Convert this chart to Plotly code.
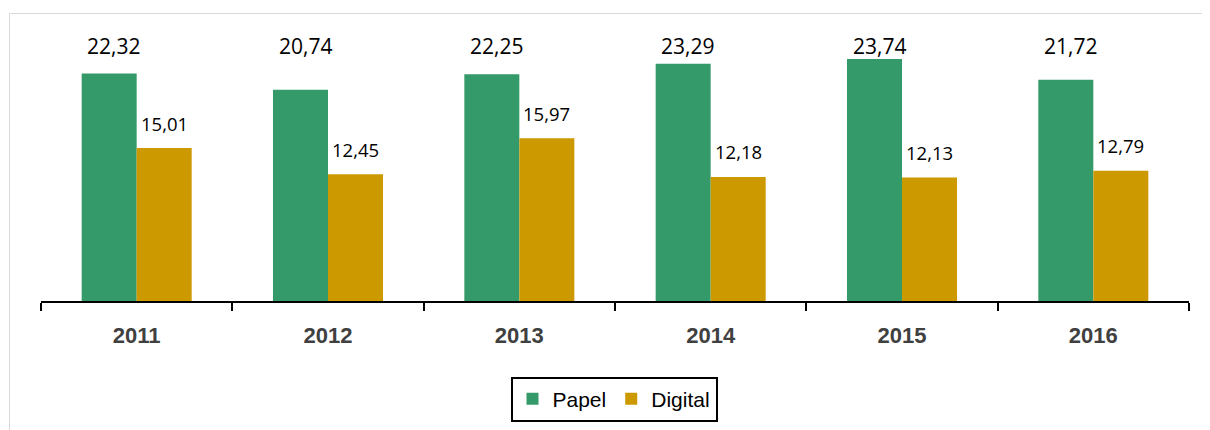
import plotly.graph_objects as go

years = ["2011", "2012", "2013", "2014", "2015", "2016"]
papel = [22.32, 20.74, 22.25, 23.29, 23.74, 21.72]
digital = [15.01, 12.45, 15.97, 12.18, 12.13, 12.79]
series_names = ["Papel", "Digital"]
colors = ["#349A69", "#CC9900"]

OFF = 8  # page body margin
W, H = 1210 - OFF, 430 - OFF
L, T = 41 - OFF, 14 - OFF
R = W - (1189 - OFF)
B = H - (301 - OFF)
pw, ph = W - L - R, H - T - B


def px_x(x):
    return (x - OFF - L) / pw


def px_y(y):
    return (H - B - (y - OFF)) / ph


def fmt(v):
    return f"{v:.2f}".replace(".", ",")


fig = go.Figure()
for name, vals, col in zip(series_names, [papel, digital], colors):
    fig.add_trace(go.Bar(name=name, x=years, y=vals, marker=dict(color=col, line=dict(width=0)),
                         hoverinfo="skip"))

annotations = []
for i, v in enumerate(papel):
    annotations.append(dict(x=i, y=px_y(46.5), yref="paper", xref="x", text=fmt(v),
                            showarrow=False, xshift=-23, yanchor="middle",
                            font=dict(family="Open Sans", size=21, color="#000000")))
for i, v in enumerate(digital):
    annotations.append(dict(x=i, y=v, xref="x", yref="y", text=fmt(v),
                            showarrow=False, xshift=27.5, yshift=25, yanchor="middle",
                            font=dict(family="Open Sans", size=18.5, color="#000000")))

shapes = [
    dict(type="line", xref="paper", yref="paper", x0=px_x(9.5), x1=px_x(1220),
         y0=px_y(13.5), y1=px_y(13.5), line=dict(color="#D9D9D9", width=1)),
    dict(type="line", xref="paper", yref="paper", x0=px_x(9.5), x1=px_x(9.5),
         y0=px_y(13.5), y1=px_y(440), line=dict(color="#D9D9D9", width=1)),
]

fig.update_layout(
    width=W, height=H,
    margin=dict(l=L, r=R, t=T, b=B),
    paper_bgcolor="white", plot_bgcolor="white",
    barmode="group", bargap=0.425, bargroupgap=0,
    showlegend=True,
    legend=dict(orientation="h", x=px_x(614), xanchor="center", y=px_y(376.5), yanchor="top",
                bordercolor="#000000", borderwidth=2,
                font=dict(family="Liberation Sans, Arial", size=21, color="#000000"),
                itemclick=False, itemdoubleclick=False),
    annotations=annotations,
    shapes=shapes,
    xaxis=dict(type="category", range=[-0.5, len(years) - 0.5], showline=True,
               linecolor="#000000", linewidth=2,
               ticks="outside", tickson="boundaries", ticklen=8, tickwidth=2, tickcolor="#000000",
               ticklabelstandoff=14,
               showgrid=False, zeroline=False,
               tickfont=dict(family="Liberation Sans, Arial", size=22, color="#404040", weight="bold")),
    yaxis=dict(range=[0, ph / 10.19], visible=False, showgrid=False, zeroline=False),
)

fig.write_html("out.html")
